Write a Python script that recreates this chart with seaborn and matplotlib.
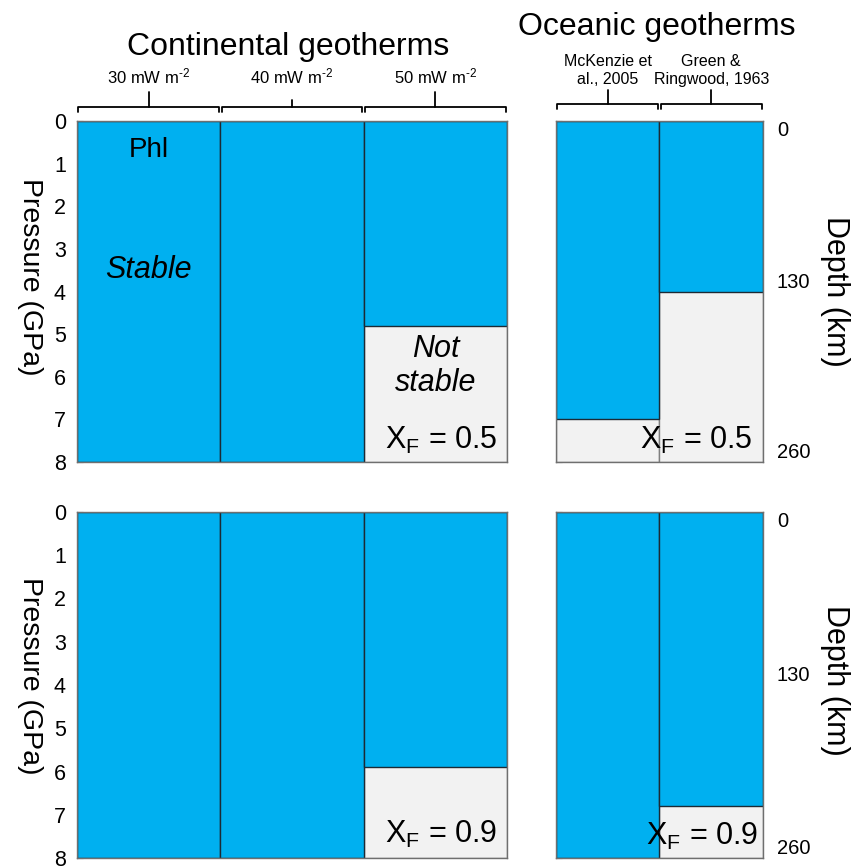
import matplotlib
matplotlib.use("Agg")
import matplotlib.pyplot as plt
import seaborn as sns
import pandas as pd

# ---------------- data ----------------
continental_cats = ["30 mW m-2", "40 mW m-2", "50 mW m-2"]
continental_labels = [r"30 mW m$^{\mathregular{\text{-}2}}$", r"40 mW m$^{\mathregular{\text{-}2}}$",
                      r"50 mW m$^{\mathregular{\text{-}2}}$"]
oceanic_cats = ["McKenzie et al., 2005", "Green & Ringwood, 1963"]
oceanic_labels = ["McKenzie et\nal., 2005", "Green &\nRingwood, 1963"]

# phlogopite stability limit (GPa) per geotherm
cont_xf05 = [8.0, 8.0, 4.8]
ocean_xf05 = [7.0, 4.0]
cont_xf09 = [8.0, 8.0, 5.9]
ocean_xf09 = [8.0, 6.8]

p_max = 8.0
depth_ticks = [0, 130, 260]          # km
km_per_gpa = 32.5

BLUE = "#00B0F0"
GRAY = "#F2F2F2"

sns.set_theme(style="white")
plt.rcParams["font.family"] = ["Liberation Sans", "DejaVu Sans"]
plt.rcParams["mathtext.fontset"] = "custom"
plt.rcParams["mathtext.rm"] = "Liberation Sans"
plt.rcParams["mathtext.it"] = "Liberation Sans:italic"
plt.rcParams["text.color"] = "black"
plt.rcParams["ytick.color"] = "black"
plt.rcParams["xtick.color"] = "black"
plt.rcParams["axes.labelcolor"] = "black"

fig = plt.figure(figsize=(8.54, 8.66), dpi=100)
W, H = 854, 866


def rect(x0, x1, y0, y1):
    return [x0 / W, 1 - y1 / H, (x1 - x0) / W, (y1 - y0) / H]


def panel(r, cats, vals, left_labels, right_labels):
    ax = fig.add_axes(r)
    df = pd.DataFrame({"cat": cats, "val": vals, "total": [p_max] * len(cats)})
    sns.barplot(data=df, x="cat", y="total", width=1.0, color=GRAY, saturation=1,
                edgecolor="#7f7f7f", linewidth=1.0, errorbar=None, ax=ax)
    sns.barplot(data=df, x="cat", y="val", width=1.0, color=BLUE, saturation=1,
                edgecolor="#1c2a35", linewidth=1.0, errorbar=None, ax=ax)
    ax.set_ylim(p_max, 0)
    ax.set_xlim(-0.5, len(cats) - 0.5)
    ax.set_xlabel("")
    ax.set_ylabel("")
    ax.tick_params(axis="x", bottom=False, labelbottom=False)
    ax.set_yticks(range(0, 9))
    ax.set_yticks([i + 0.5 for i in range(8)], minor=True)
    ax.tick_params(axis="y", which="both", left=True, direction="in", length=4,
                   width=0.8, color="#333333", labelleft=left_labels,
                   labelsize=15.5, pad=8, labelcolor="black")
    for s in ax.spines.values():
        s.set_color("#6f6f6f")
        s.set_linewidth(1.0)
    if right_labels:
        sec = ax.secondary_yaxis("right", functions=(lambda p: p * km_per_gpa,
                                                     lambda d: d / km_per_gpa))
        sec.set_yticks(depth_ticks)
        sec.set_yticklabels([str(d) for d in depth_ticks])
        sec.tick_params(length=0, labelsize=14.5, pad=10, labelcolor="black")
        sec.spines["right"].set_visible(False)
        tl = sec.get_yticklabels()
        tl[0].set_va("top")
        tl[1].set_va("bottom")
        tl[2].set_va("bottom")
    return ax


def bracket(ax, x0, x1, y_line, y_hook, y_top):
    tr = ax.get_xaxis_transform()
    xc = (x0 + x1) / 2
    ax.plot([x0, x0, x1, x1], [y_hook, y_line, y_line, y_hook], color="black",
            lw=1.3, transform=tr, clip_on=False)
    ax.plot([xc, xc], [y_line, y_top], color="black", lw=1.3, transform=tr, clip_on=False)


# ---- axes ----
ax1 = panel(rect(77, 507, 121, 462), continental_cats, cont_xf05, True, False)
ax2 = panel(rect(556, 763, 121, 462), oceanic_cats, ocean_xf05, False, True)
ax3 = panel(rect(77, 507, 512, 858), continental_cats, cont_xf09, True, False)
ax4 = panel(rect(556, 763, 512, 858), oceanic_cats, ocean_xf09, False, True)

# brackets + column labels
tops = [1.085, 1.062, 1.085]
for i, lab in enumerate(continental_labels):
    bracket(ax1, i - 0.49, i + 0.49, 1.041, 1.025, tops[i])
    ax1.text(i, 1.13, lab, transform=ax1.get_xaxis_transform(), ha="center",
             va="center", fontsize=12)
for i, lab in enumerate(oceanic_labels):
    bracket(ax2, i - 0.49, i + 0.49, 1.05, 1.035, 1.091)
    ax2.text(i, 1.148, lab, transform=ax2.get_xaxis_transform(), ha="center",
             va="center", fontsize=11.5, linespacing=1.2)

# titles
fig.text(288 / W, 1 - 47 / H, "Continental geotherms", ha="center", va="center", fontsize=23)
fig.text(657 / W, 1 - 27 / H, "Oceanic geotherms", ha="center", va="center", fontsize=23)

# axis titles
for yp, yd in ((277, 291), (676, 680)):
    fig.text(30 / W, 1 - yp / H, "Pressure (GPa)", rotation=270, ha="center",
             va="center", fontsize=20.5)
    fig.text(835 / W, 1 - yd / H, "Depth (km)", rotation=270, ha="center",
             va="center", fontsize=22)

# annotations
ax1.text(0, 0.68, "Phl", ha="center", va="center", fontsize=20)
ax1.text(0, 3.5, "Stable", ha="center", va="center", fontsize=22, style="italic")
ax1.text(2, 5.75, "Not\nstable", ha="center", va="center", fontsize=22,
         style="italic", linespacing=1.15)
xf05 = r"X$_\mathregular{F}$ = 0.5"
xf09 = r"X$_\mathregular{F}$ = 0.9"
ax1.text(2.43, 7.5, xf05, ha="right", va="center", fontsize=22)
ax2.text(1.4, 7.5, xf05, ha="right", va="center", fontsize=22)
ax3.text(2.43, 7.45, xf09, ha="right", va="center", fontsize=22)
ax4.text(1.45, 7.5, xf09, ha="right", va="center", fontsize=22)

fig.savefig("out.png", dpi=100)
